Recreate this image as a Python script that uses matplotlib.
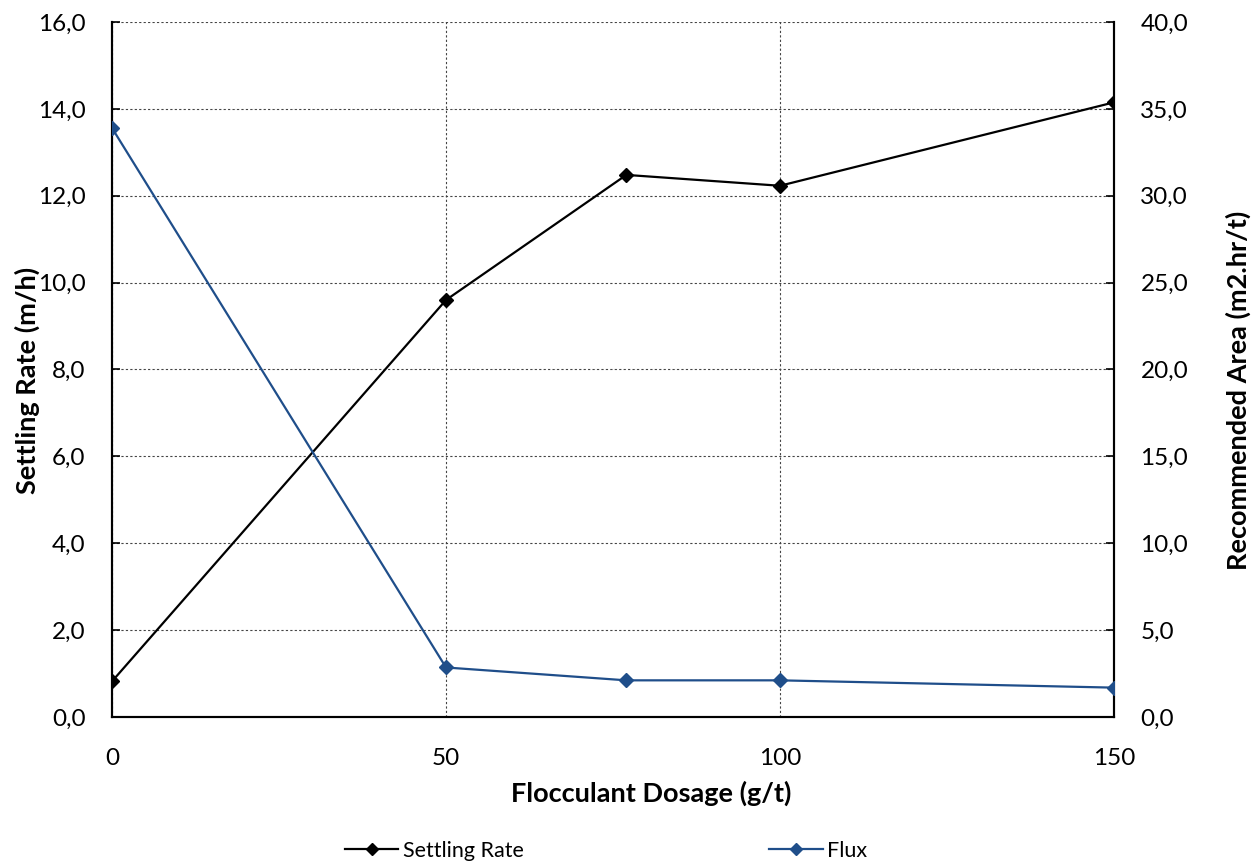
import matplotlib
matplotlib.use("Agg")
import matplotlib.pyplot as plt
from matplotlib.ticker import FuncFormatter, MultipleLocator

plt.rcParams['font.family'] = ['Lato', 'DejaVu Sans']

# Flocculant dosage test results
dosage = [0, 50, 77, 100, 150]
settling_rate = [0.82, 9.60, 12.48, 12.23, 14.15]   # m/h
flux = [33.9, 2.85, 2.11, 2.11, 1.69]               # m2.hr/t

x_ticks = [0, 50, 100, 150]

BLUE = '#1f4e8a'

fig = plt.figure(figsize=(12.59, 8.63), dpi=100)
ax = fig.add_axes([112 / 1259, 1 - 717 / 863, 1002 / 1259, 695 / 863])
ax2 = ax.twinx()

ax.plot(dosage, settling_rate, color='black', lw=1.6, marker='D', ms=7,
        label='Settling Rate', zorder=5)
ax2.plot(dosage, flux, color=BLUE, lw=1.6, marker='D', ms=7,
         label='Flux', zorder=5)

ax.set_xlim(0, 150)
ax.set_ylim(0, 16)
ax2.set_ylim(0, 40)
ax.set_xticks(x_ticks)
ax.yaxis.set_major_locator(MultipleLocator(2))
ax2.yaxis.set_major_locator(MultipleLocator(5))

comma = FuncFormatter(lambda v, p: f"{v:.1f}".replace('.', ','))
ax.yaxis.set_major_formatter(comma)
ax2.yaxis.set_major_formatter(comma)

ax.grid(True, which='major', color='#444444', lw=0.8, linestyle=(0, (2, 2)))

ax.tick_params(axis='x', length=0, pad=22, labelsize=17.5)
ax.tick_params(axis='y', direction='in', length=6, width=1.2, pad=19, labelsize=17.5)
ax2.tick_params(axis='y', direction='in', length=6, width=1.2, pad=19, labelsize=17.5)

for a in (ax, ax2):
    a.spines['top'].set_visible(False)
    for s in ('left', 'right', 'bottom'):
        a.spines[s].set_linewidth(1.5)
        a.spines[s].set_color('black')

LABEL_SIZE = 19.5
ax.set_xlabel('Flocculant Dosage (g/t)', fontsize=LABEL_SIZE, fontweight='bold')
ax.xaxis.set_label_coords((651 - 112) / 1002, (717 - 793) / 695)
ax.xaxis.label.set_va('center')
ax.set_ylabel('Settling Rate (m/h)', fontsize=LABEL_SIZE, fontweight='bold')
ax.yaxis.set_label_coords((27 - 112) / 1002, (717 - 380) / 695)
ax.yaxis.label.set_va('center')
ax2.set_ylabel('Recommended Area (m2.hr/t)', fontsize=LABEL_SIZE, fontweight='bold')
ax2.yaxis.set_label_coords((1238 - 112) / 1002, (717 - 390) / 695)
ax2.yaxis.label.set_va('center')

h1, l1 = ax.get_legend_handles_labels()
h2, l2 = ax2.get_legend_handles_labels()
fig.legend(h1 + h2, l1 + l2, loc='center', bbox_to_anchor=(606 / 1259, 1 - 851 / 863),
           ncol=2, frameon=False, fontsize=15.5, handlelength=2.5,
           handletextpad=0.2, columnspacing=11.4, markerscale=0.85)

fig.savefig('out.png', dpi=100)
